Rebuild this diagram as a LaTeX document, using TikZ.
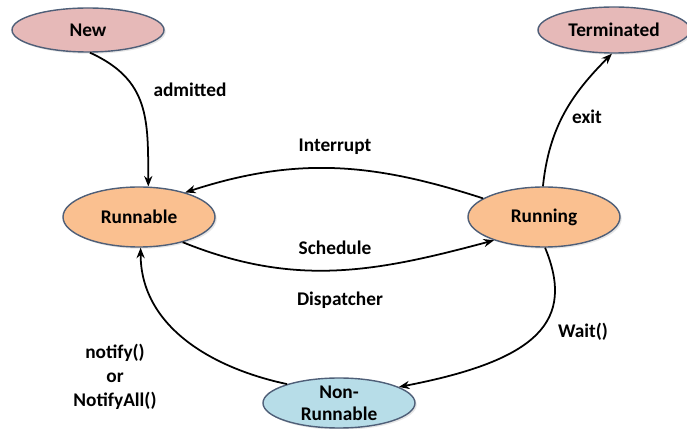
\documentclass[tikz,border=0pt]{standalone}
\usepackage{fontspec}
\setmainfont{Carlito}
\usetikzlibrary{arrows.meta,shadows,shapes.geometric}
\definecolor{pinkfill}{HTML}{E6B9B8}
\definecolor{orangefill}{HTML}{FAC090}
\definecolor{bluefill}{HTML}{B7DDE8}
\definecolor{edgegray}{HTML}{4F5F78}
\begin{document}
\begin{tikzpicture}[x=0.03cm,y=-0.03cm,
  state/.style={ellipse,draw=edgegray,line width=1.2pt,minimum width=4.56cm,
    minimum height=1.8cm,inner sep=0pt,align=center,
    font=\fontsize{16.5}{19}\selectfont\bfseries,
    drop shadow={opacity=0.2,shadow xshift=1.5pt,shadow yshift=-1.5pt}},
  lbl/.style={align=center,font=\fontsize{16.5}{17}\selectfont\bfseries},
  arr/.style={-{Stealth[length=9pt,width=7pt]},line width=1.5pt}]
  \useasboundingbox (0,0) rectangle (687,429);
  % states
  \node[state,fill=pinkfill,minimum height=1.32cm] (new) at (88,30) {New};
  \node[state,fill=pinkfill,minimum height=1.38cm] (terminated) at (614,30) {Terminated};
  \node[state,fill=orangefill] (runnable) at (139,217) {Runnable};
  \node[state,fill=orangefill] (running) at (544,217) {Running};
  \node[state,fill=bluefill,minimum height=1.5cm] (nonrunnable) at (339,403) {Non-\\Runnable};
  % transitions
  \draw[arr] (new.-85) .. controls (150,80) and (148,120) .. (runnable.73);
  \draw[arr] (running.92) to[out=84,in=-135] (terminated.-95);
  \draw[arr] (running.163) to[out=162,in=18] (runnable.28);
  \draw[arr] (runnable.-30) to[out=-22,in=195] (running.-155);
  \draw[arr] (running.-88) .. controls (575,320) and (540,360) .. (nonrunnable.15);
  \draw[arr] (nonrunnable.160) to[out=168,in=-90] (runnable.-87);
  % labels
  \node[lbl] (admitted) at (190,90) {admitted};
  \node[lbl] (exit) at (587,117) {exit};
  \node[lbl] (interrupt) at (335,147) {Interrupt};
  \node[lbl] (schedule) at (335,248) {Schedule};
  \node[lbl] (dispatcher) at (340,300) {Dispatcher};
  \node[lbl] (wait) at (583,332) {Wait()};
  \node[lbl,font=\fontsize{16.5}{20.5}\selectfont\bfseries] (notify) at (115,377) {notify()\\or\\NotifyAll()};
\end{tikzpicture}
\end{document}
